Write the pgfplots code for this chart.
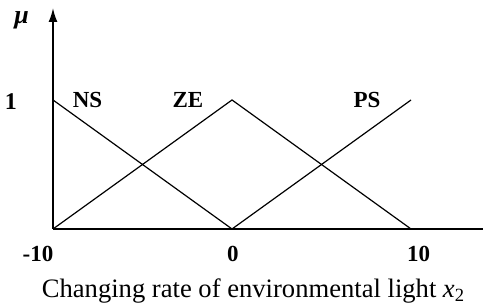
\documentclass[border=0pt]{standalone}
\usepackage{pgfplots}
\pgfplotsset{compat=1.18}
\usepackage{fontspec}
\setmainfont{Liberation Serif}
\usetikzlibrary{arrows.meta}
\begin{document}
\begin{tikzpicture}
\useasboundingbox (-26.5pt,-39.5pt) rectangle (215pt,114.5pt);
\begin{axis}[
  scale only axis,
  width=215pt, height=110.5pt,
  xmin=-10, xmax=14.02, ymin=0, ymax=1.713,
  axis lines=none,
  clip=false,
]
\draw[line width=0.9pt] (axis cs:-10,0) -- (axis cs:14.02,0);
\draw[line width=0.9pt,-{Latex[length=7pt,width=4.5pt]}] (axis cs:-10,0) -- (axis cs:-10,1.713);
\addplot[black, line width=0.6pt] coordinates {(-10,1) (0,0)};
\addplot[black, line width=0.6pt] coordinates {(-10,0) (0,1) (10,0)};
\addplot[black, line width=0.6pt] coordinates {(0,0) (10,1)};
\node[font=\fontsize{11.5}{11.5}\selectfont\bfseries] at (axis cs:-8.07,1.0) {NS};
\node[font=\fontsize{11.5}{11.5}\selectfont\bfseries] at (axis cs:-2.46,1.0) {ZE};
\node[font=\fontsize{11.5}{11.5}\selectfont\bfseries] at (axis cs:7.54,1.0) {PS};
\node[font=\fontsize{12}{12}\selectfont\bfseries] at (axis cs:-12.35,0.99) {1};
\node[font=\fontsize{13}{13}\selectfont\bfseries\itshape] at (axis cs:-11.75,1.62) {μ};
\node[font=\fontsize{11.5}{11.5}\selectfont\bfseries] at (axis cs:-10.84,-0.19) {-10};
\node[font=\fontsize{11.5}{11.5}\selectfont\bfseries] at (axis cs:0.05,-0.19) {0};
\node[font=\fontsize{11.5}{11.5}\selectfont\bfseries] at (axis cs:10.42,-0.19) {10};
\node[font=\fontsize{13.3}{13.3}\selectfont] at (axis cs:1.2,-0.48) {Changing rate of environmental light \textit{x}\textsubscript{2}};
\end{axis}
\end{tikzpicture}
\end{document}
